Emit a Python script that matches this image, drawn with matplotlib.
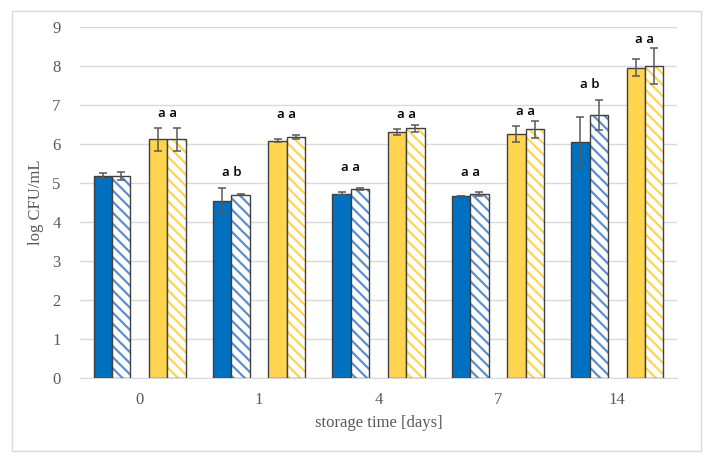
import matplotlib.pyplot as plt
import numpy as np
from matplotlib.patches import Rectangle

# data
days = ["0", "1", "4", "7", "14"]
blue = [5.17, 4.55, 4.73, 4.66, 6.05]
blue_err = [0.08, 0.32, 0.05, 0.0, 0.63]
blue_h = [5.17, 4.70, 4.84, 4.72, 6.75]
blue_h_err = [0.10, 0.02, 0.03, 0.05, 0.39]
yellow = [6.12, 6.08, 6.30, 6.26, 7.96]
yellow_err = [0.30, 0.04, 0.08, 0.20, 0.21]
yellow_h = [6.12, 6.18, 6.40, 6.38, 8.00]
yellow_h_err = [0.30, 0.04, 0.10, 0.22, 0.47]

# letters above each pair (None = no label)
blue_lbl = [None, "a b", "a a", "a a", "a b"]
blue_lbl_y = [None, 5.28, 5.39, 5.28, 7.53]
yellow_lbl = ["a a", "a a", "a a", "a a", "a a"]
yellow_lbl_y = [6.78, 6.75, 6.75, 6.83, 8.69]

c_blue = "#0070C0"
c_blue_h = "#5B8FD0"
c_yellow = "#FFD44F"
edge = "#404040"
err_c = "#595959"
txt_c = "#595959"

plt.rcParams['hatch.linewidth'] = 1.6
fig = plt.figure(figsize=(7.15, 4.62), dpi=100)
ax = fig.add_axes([80 / 715, 1 - 378 / 462, 597 / 715, 351 / 462])

fig.patches.append(Rectangle((12 / 715, 11 / 462), 689 / 715, 440 / 462,
                             transform=fig.transFigure, fill=False,
                             edgecolor="#D9D9D9", linewidth=1))

x = np.arange(len(days))
w = 0.1545
ekw = dict(ecolor=err_c, elinewidth=1.1, capsize=3, capthick=1.1)
hatch = "\\" * 3

ax.bar(x - 2 * w, blue, w, color=c_blue, edgecolor=edge, linewidth=1,
       yerr=blue_err, error_kw=ekw, zorder=3)
ax.bar(x - w, blue_h, w, color="white", edgecolor=c_blue_h, linewidth=0,
       hatch=hatch, zorder=3)
ax.bar(x - w, blue_h, w, fill=False, edgecolor=edge, linewidth=1,
       yerr=blue_h_err, error_kw=ekw, zorder=4)
ax.bar(x + w, yellow, w, color=c_yellow, edgecolor=edge, linewidth=1,
       yerr=yellow_err, error_kw=ekw, zorder=3)
ax.bar(x + 2 * w, yellow_h, w, color="white", edgecolor=c_yellow, linewidth=0,
       hatch=hatch, zorder=3)
ax.bar(x + 2 * w, yellow_h, w, fill=False, edgecolor=edge, linewidth=1,
       yerr=yellow_h_err, error_kw=ekw, zorder=4)

for i in range(len(days)):
    if blue_lbl[i]:
        ax.text(x[i] - 1.5 * w, blue_lbl_y[i], blue_lbl[i], ha="center", va="center",
                fontsize=9.5, family="Open Sans", fontweight="semibold")
    ax.text(x[i] + 1.5 * w, yellow_lbl_y[i], yellow_lbl[i], ha="center", va="center",
            fontsize=9.5, family="Open Sans", fontweight="semibold")

ax.set_xlim(-0.5, 4.5)
ax.set_ylim(0, 9)
ax.set_yticks(range(10))
ax.set_xticks(x)
ax.set_xticklabels(days)
ax.grid(axis="y", color="#D9D9D9", linewidth=1, zorder=0)
ax.set_axisbelow(True)
for s in ["top", "right", "left"]:
    ax.spines[s].set_visible(False)
ax.spines["bottom"].set_color("#D9D9D9")
ax.tick_params(length=0, labelsize=12, labelcolor=txt_c, pad=14)
ax.tick_params(axis="x", pad=10)
for lab in ax.get_xticklabels() + ax.get_yticklabels():
    lab.set_family("Liberation Serif")

ax.set_xlabel("storage time [days]", family="Liberation Serif", fontsize=12,
              color=txt_c, labelpad=5)
ax.set_ylabel("log CFU/mL", family="Liberation Serif", fontsize=12,
              color=txt_c, labelpad=6)

fig.savefig("out.png", dpi=100)
